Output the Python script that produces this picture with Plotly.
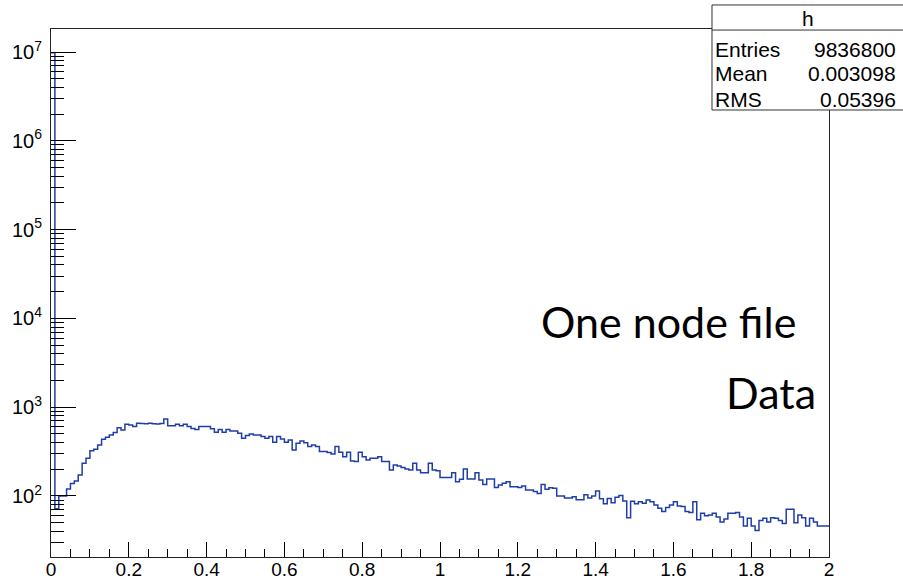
import numpy as np
import plotly.graph_objects as go

# Histogram "h": 200 bins over [0, 2]
x_min, x_max, n_bins = 0.0, 2.0, 200
counts = [
    9790000, 72, 100, 100, 120, 138, 148, 172, 234, 266,
    324, 336, 376, 435, 458, 487, 518, 588, 555, 643,
    632, 605, 660, 655, 650, 660, 650, 648, 655, 738,
    620, 620, 643, 620, 643, 605, 575, 560, 605, 605,
    605, 570, 523, 560, 523, 560, 540, 540, 508, 448,
    479, 500, 487, 487, 467, 447, 467, 403, 467, 439,
    403, 428, 330, 393, 417, 399, 360, 376, 360, 316,
    316, 308, 298, 360, 311, 277, 311, 248, 244, 311,
    277, 255, 266, 266, 277, 244, 244, 196, 224, 218,
    209, 201, 196, 233, 196, 183, 183, 233, 196, 193,
    162, 162, 162, 183, 145, 154, 201, 155, 155, 183,
    151, 135, 155, 155, 125, 133, 139, 145, 127, 127,
    125, 130, 117, 117, 112, 107, 135, 119, 124, 122,
    100, 100, 95, 95, 98, 91, 91, 103, 95, 100,
    114, 93, 82, 94, 84, 97, 101, 88, 57, 87,
    82, 86, 83, 90, 86, 79, 73, 67, 74, 79,
    86, 77, 76, 67, 65, 86, 54, 64, 60, 61,
    64, 58, 51, 55, 64, 64, 65, 58, 46, 56,
    46, 41, 53, 56, 51, 57, 56, 53, 49, 71,
    71, 50, 61, 57, 46, 56, 51, 46, 46, 46,
]

# Statistics box
stats_title = "h"
stats_labels = ["Entries", "Mean", "RMS"]
stats_values = ["9836800", "0.003098", "0.05396"]

# Axis ticks
x_ticks = [0, 0.2, 0.4, 0.6, 0.8, 1, 1.2, 1.4, 1.6, 1.8, 2]
x_ticktext = ["0", "0.2", "0.4", "0.6", "0.8", "1", "1.2", "1.4", "1.6", "1.8", "2"]
y_exponents = [2, 3, 4, 5, 6, 7]
y_range = [1.313, 7.259]

note_lines = ["One node file", "Data"]

edges = np.linspace(x_min, x_max, n_bins + 1)
step_y = list(counts) + [counts[-1]]

fig = go.Figure()
fig.add_trace(go.Scatter(
    x=edges, y=step_y, mode="lines", line_shape="hv",
    line=dict(color="#1f3ea8", width=1.5), hoverinfo="skip", showlegend=False,
))

axis_font = dict(family="Liberation Sans, Arial, sans-serif", size=20, color="black")
x_font = dict(family="Liberation Sans, Arial, sans-serif", size=19, color="black")

fig.update_layout(
    width=903, height=583,
    margin=dict(l=51, r=74, t=29, b=26),
    paper_bgcolor="white", plot_bgcolor="white",
    xaxis=dict(
        range=[x_min, x_max], tickmode="array", tickvals=x_ticks, ticktext=x_ticktext,
        ticks="inside", ticklen=15, tickwidth=1, tickcolor="black",
        minor=dict(dtick=0.05, tick0=0, ticks="inside", ticklen=8, tickcolor="black", showgrid=False),
        showgrid=False, zeroline=False, showline=True, linecolor="#222", linewidth=1,
        mirror=True, tickfont=x_font, ticklabelstandoff=-5, automargin=False,
    ),
    yaxis=dict(
        type="log", range=y_range, tickmode="array",
        tickvals=[10 ** e for e in y_exponents],
        ticktext=[f"10<sup>{e}</sup>" for e in y_exponents],
        ticks="inside", ticklen=25, tickwidth=1, tickcolor="black",
        minor=dict(dtick="D1", ticks="inside", ticklen=13, tickcolor="black", showgrid=False),
        showgrid=False, zeroline=False, showline=True, linecolor="#222", linewidth=1,
        mirror=True, tickfont=axis_font, ticklabelstandoff=4, automargin=False,
    ),
)

# statistics box drawn over the frame corner
box_x0, box_x1 = 0.8496, 1.10
box_y0, box_y1 = 0.8466, 1.0455
head_y = 0.998
fig.add_shape(type="rect", xref="paper", yref="paper", x0=box_x0, x1=box_x1, y0=box_y0, y1=box_y1,
              fillcolor="white", line=dict(color="#333", width=1), layer="above")
fig.add_shape(type="line", xref="paper", yref="paper", x0=box_x0, x1=box_x1, y0=head_y, y1=head_y,
              line=dict(color="#333", width=1), layer="above")

stats_font = dict(family="Liberation Sans, Arial, sans-serif", size=21, color="black")
fig.add_annotation(xref="paper", yref="paper", x=0.973, y=1.020, text=stats_title,
                   showarrow=False, xanchor="center", yanchor="middle", font=stats_font)
row_y = [0.962, 0.915, 0.867]
for lab, val, yy in zip(stats_labels, stats_values, row_y):
    fig.add_annotation(xref="paper", yref="paper", x=0.851, y=yy, text=lab,
                       showarrow=False, xanchor="left", yanchor="middle", font=stats_font)
    fig.add_annotation(xref="paper", yref="paper", x=1.089, y=yy, text=val,
                       showarrow=False, xanchor="right", yanchor="middle", font=stats_font)

note_font = dict(family="Lato, Open Sans, sans-serif", size=43, color="black")
fig.add_annotation(xref="paper", yref="paper", x=0.960, y=0.446, text=note_lines[0],
                   showarrow=False, xanchor="right", yanchor="middle", font=note_font)
fig.add_annotation(xref="paper", yref="paper", x=0.986, y=0.312, text=note_lines[1],
                   showarrow=False, xanchor="right", yanchor="middle", font=note_font)

fig.write_html("out.html")
